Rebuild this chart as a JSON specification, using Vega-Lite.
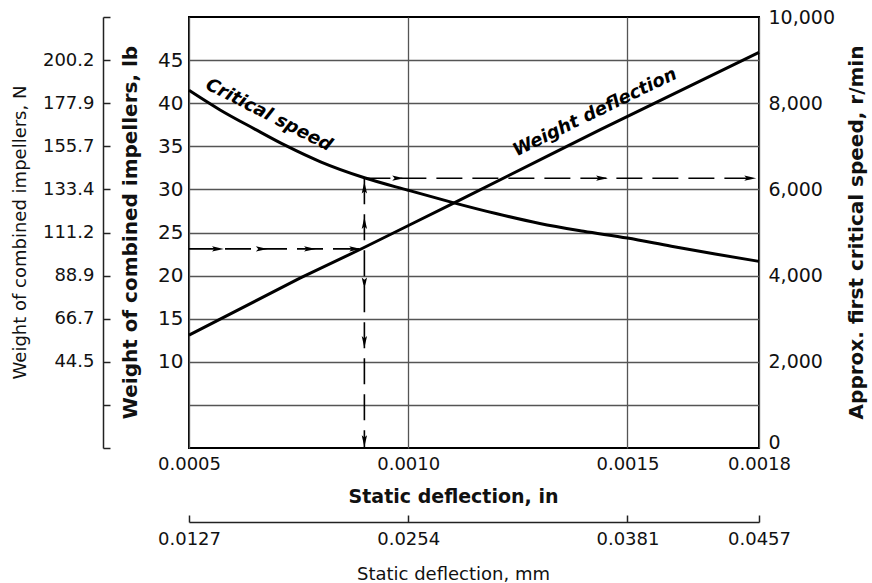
{
  "$schema": "https://vega.github.io/schema/vega-lite/v6.json",
  "width": 570,
  "height": 431,
  "autosize": {"type": "none"},
  "padding": {"left": 189, "top": 17, "right": 113, "bottom": 135},
  "background": "white",
  "config": {
    "view": {"stroke": "black", "strokeWidth": 2},
    "font": "DejaVu Sans",
    "axis": {"labelFont": "DejaVu Sans", "titleFont": "DejaVu Sans", "labelColor": "#111", "titleColor": "#111", "labelFlush": false, "labelOverlap": false, "labelBound": false}
  },
  "resolve": {"scale": {"y": "independent"}, "axis": {"x": "independent", "y": "independent"}},
  "layer": [
    {
      "data": {"values": [
        {"deflection_in": 0.0005, "weight_lb": 13.1},
        {"deflection_in": 0.000753, "weight_lb": 19.7},
        {"deflection_in": 0.000897, "weight_lb": 23.2},
        {"deflection_in": 0.001004, "weight_lb": 25.9},
        {"deflection_in": 0.001107, "weight_lb": 28.5},
        {"deflection_in": 0.001323, "weight_lb": 34.0},
        {"deflection_in": 0.001437, "weight_lb": 36.9},
        {"deflection_in": 0.0018, "weight_lb": 45.9}
      ]},
      "mark": {"type": "line", "color": "black", "strokeWidth": 3},
      "encoding": {
        "x": {"field": "deflection_in", "type": "quantitative",
          "scale": {"domain": [0.0005, 0.0018], "nice": false, "zero": false},
          "axis": {"orient": "bottom", "values": [0.0005, 0.001, 0.0015, 0.0018], "format": ".4f",
            "grid": true, "gridColor": "#555", "gridWidth": 1.3, "ticks": false, "domain": false,
            "labelFontSize": 18, "labelPadding": 7,
            "title": "Static deflection, in", "titleFontSize": 19, "titleFontWeight": "bold",
            "titleX": 264, "titleY": 48, "titleBaseline": "middle", "titleAlign": "center"}},
        "y": {"field": "weight_lb", "type": "quantitative",
          "scale": {"domain": [0, 50], "nice": false, "zero": true},
          "axis": {"orient": "left", "values": [5, 10, 15, 20, 25, 30, 35, 40, 45],
            "labelExpr": "datum.value < 9 ? '' : datum.label",
            "grid": true, "gridColor": "#555", "gridWidth": 1.3, "ticks": false, "domain": false,
            "labelFontSize": 20, "labelPadding": 6,
            "title": "Weight of combined impellers, lb", "titleFontSize": 20, "titleFontWeight": "bold",
            "titleX": -59, "titleY": 215, "titleAngle": 270, "titleBaseline": "middle", "titleAlign": "center"}}
      }
    },
    {
      "data": {"values": [
        {"deflection_in": 0.0005, "speed_rpm": 8300},
        {"deflection_in": 0.00057, "speed_rpm": 7850},
        {"deflection_in": 0.00065, "speed_rpm": 7400},
        {"deflection_in": 0.00072, "speed_rpm": 7020},
        {"deflection_in": 0.0008, "speed_rpm": 6640},
        {"deflection_in": 0.0009, "speed_rpm": 6270},
        {"deflection_in": 0.001, "speed_rpm": 5980},
        {"deflection_in": 0.0011, "speed_rpm": 5700},
        {"deflection_in": 0.0012, "speed_rpm": 5440},
        {"deflection_in": 0.0013, "speed_rpm": 5210},
        {"deflection_in": 0.0014, "speed_rpm": 5030},
        {"deflection_in": 0.0015, "speed_rpm": 4870},
        {"deflection_in": 0.0016, "speed_rpm": 4680},
        {"deflection_in": 0.0017, "speed_rpm": 4500},
        {"deflection_in": 0.0018, "speed_rpm": 4330}
      ]},
      "mark": {"type": "line", "color": "black", "strokeWidth": 3, "interpolate": "monotone"},
      "encoding": {
        "x": {"field": "deflection_in", "type": "quantitative",
          "scale": {"domain": [0.0005, 0.0018], "nice": false, "zero": false}, "axis": null},
        "y": {"field": "speed_rpm", "type": "quantitative",
          "scale": {"domain": [0, 10000], "nice": false, "zero": true},
          "axis": {"orient": "right", "values": [0, 2000, 4000, 6000, 8000, 10000], "format": ",.0f",
            "grid": false, "ticks": false, "domain": false,
            "labelFontSize": 19, "labelPadding": 9,
            "labelOffset": {"condition": {"test": "datum.value == 0", "value": -6}, "value": 0},
            "title": "Approx. first critical speed, r/min", "titleFontSize": 20, "titleFontWeight": "bold",
            "titleX": 97, "titleY": 215, "titleAngle": 270, "titleBaseline": "middle", "titleAlign": "center"}}
      }
    },
    {
      "data": {"values": [
        {"path": "a", "i": 1, "deflection_in": 0.0005, "weight_lb": 23.1},
        {"path": "a", "i": 2, "deflection_in": 0.0009, "weight_lb": 23.1},
        {"path": "b", "i": 1, "deflection_in": 0.0009, "weight_lb": 31.3},
        {"path": "b", "i": 2, "deflection_in": 0.0009, "weight_lb": 0},
        {"path": "c", "i": 1, "deflection_in": 0.0009, "weight_lb": 31.3},
        {"path": "c", "i": 2, "deflection_in": 0.0018, "weight_lb": 31.3}
      ]},
      "mark": {"type": "line", "color": "black", "strokeWidth": 1.6, "strokeDash": [26, 10]},
      "encoding": {
        "detail": {"field": "path"},
        "order": {"field": "i"},
        "x": {"field": "deflection_in", "type": "quantitative",
          "scale": {"domain": [0.0005, 0.0018], "nice": false, "zero": false},
          "axis": {"orient": "bottom", "offset": 74, "values": [0.0005, 0.001, 0.0015, 0.0018],
            "labelExpr": "datum.value < 0.0007 ? '0.0127' : datum.value < 0.0012 ? '0.0254' : datum.value < 0.0016 ? '0.0381' : '0.0457'",
            "grid": false, "ticks": true, "tickSize": -7, "tickColor": "#222", "tickWidth": 1.5,
            "domain": true, "domainColor": "#222", "domainWidth": 1.5,
            "labelFontSize": 18, "labelPadding": 15,
            "title": "Static deflection, mm", "titleFontSize": 18, "titleFontWeight": "normal",
            "titleX": 264, "titleY": 52, "titleBaseline": "middle", "titleAlign": "center"}},
        "y": {"field": "weight_lb", "type": "quantitative",
          "scale": {"domain": [0, 50], "nice": false, "zero": true},
          "axis": {"orient": "left", "offset": 86, "values": [0, 5, 10, 15, 20, 25, 30, 35, 40, 45, 50],
            "labelExpr": "['','','44.5','66.7','88.9','111.2','133.4','155.7','177.9','200.2',''][round(datum.value/5)]",
            "grid": false, "ticks": true, "tickSize": -7, "tickColor": "#222", "tickWidth": 1.5,
            "domain": true, "domainColor": "#222", "domainWidth": 1.5,
            "labelFontSize": 18, "labelPadding": 16,
            "title": "Weight of combined impellers, N", "titleFontSize": 18, "titleFontWeight": "normal",
            "titleX": -83, "titleY": 215, "titleAngle": 270, "titleBaseline": "middle", "titleAlign": "center"}}
      }
    },
    {
      "data": {"values": [
        {"dir": "right", "deflection_in": 0.000566, "weight_lb": 23.1},
        {"dir": "right", "deflection_in": 0.000666, "weight_lb": 23.1},
        {"dir": "right", "deflection_in": 0.000776, "weight_lb": 23.1},
        {"dir": "right", "deflection_in": 0.000879, "weight_lb": 23.1},
        {"dir": "right", "deflection_in": 0.000977, "weight_lb": 31.3},
        {"dir": "right", "deflection_in": 0.001442, "weight_lb": 31.3},
        {"dir": "right", "deflection_in": 0.00178, "weight_lb": 31.3},
        {"dir": "up", "deflection_in": 0.0009, "weight_lb": 30.2},
        {"dir": "up", "deflection_in": 0.0009, "weight_lb": 26.1},
        {"dir": "down", "deflection_in": 0.0009, "weight_lb": 19.1},
        {"dir": "down", "deflection_in": 0.0009, "weight_lb": 12.3},
        {"dir": "down", "deflection_in": 0.0009, "weight_lb": 0.8}
      ]},
      "mark": {"type": "point", "filled": true, "color": "black", "size": 140, "opacity": 1},
      "encoding": {
        "x": {"field": "deflection_in", "type": "quantitative",
          "scale": {"domain": [0.0005, 0.0018], "nice": false, "zero": false}, "axis": null},
        "y": {"field": "weight_lb", "type": "quantitative",
          "scale": {"domain": [0, 50], "nice": false, "zero": true}, "axis": null},
        "shape": {"field": "dir", "type": "nominal", "legend": null,
          "scale": {"domain": ["right", "up", "down"],
            "range": ["M -1 -0.45 L 1 0 L -1 0.45 L -0.6 0 Z", "M -0.45 1 L 0 -1 L 0.45 1 L 0 0.6 Z", "M -0.45 -1 L 0 1 L 0.45 -1 L 0 -0.6 Z"]}}
      }
    },
    {
      "data": {"values": [{"label": "Critical speed", "deflection_in": 0.000682, "weight_lb": 38.6}]},
      "mark": {"type": "text", "font": "DejaVu Sans", "fontStyle": "italic", "fontWeight": "bold", "fontSize": 18, "angle": 27, "align": "center", "baseline": "middle", "color": "black"},
      "encoding": {
        "text": {"field": "label"},
        "x": {"field": "deflection_in", "type": "quantitative",
          "scale": {"domain": [0.0005, 0.0018], "nice": false, "zero": false}, "axis": null},
        "y": {"field": "weight_lb", "type": "quantitative",
          "scale": {"domain": [0, 50], "nice": false, "zero": true}, "axis": null}
      }
    },
    {
      "data": {"values": [{"label": "Weight deflection", "deflection_in": 0.001426, "weight_lb": 38.9}]},
      "mark": {"type": "text", "font": "DejaVu Sans", "fontStyle": "italic", "fontWeight": "bold", "fontSize": 18, "angle": 334, "align": "center", "baseline": "middle", "color": "black"},
      "encoding": {
        "text": {"field": "label"},
        "x": {"field": "deflection_in", "type": "quantitative",
          "scale": {"domain": [0.0005, 0.0018], "nice": false, "zero": false}, "axis": null},
        "y": {"field": "weight_lb", "type": "quantitative",
          "scale": {"domain": [0, 50], "nice": false, "zero": true}, "axis": null}
      }
    }
  ]
}
